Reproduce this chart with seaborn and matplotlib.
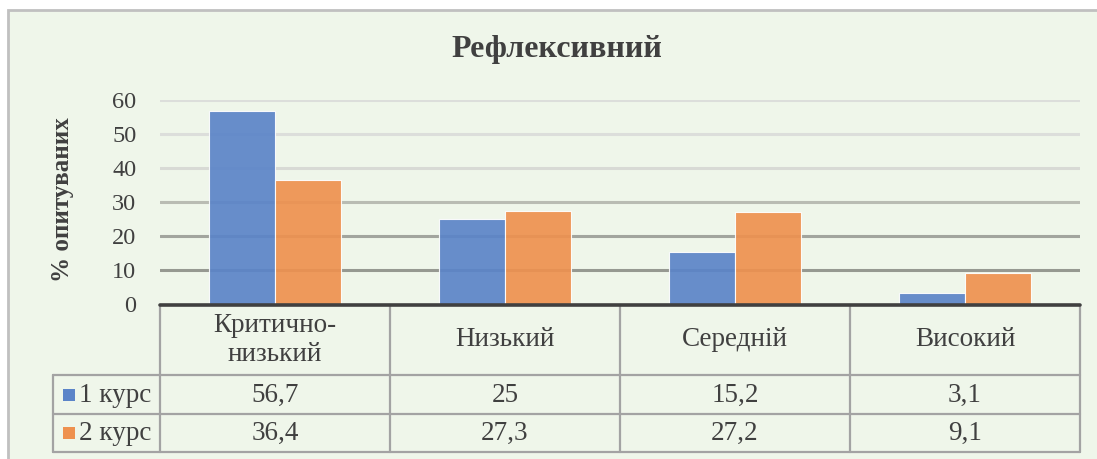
import numpy as np
import pandas as pd
import matplotlib
matplotlib.use('Agg')
import matplotlib.pyplot as plt
from matplotlib.lines import Line2D
from matplotlib.patches import Rectangle
import seaborn as sns

# data
cats = ['Критично-\nнизький', 'Низький', 'Середній', 'Високий']
groups = ['1 курс', '2 курс']
vals_1 = [56.7, 25, 15.2, 3.1]
vals_2 = [36.4, 27.3, 27.2, 9.1]
lbl_1 = ['56,7', '25', '15,2', '3,1']
lbl_2 = ['36,4', '27,3', '27,2', '9,1']
yticks = [0, 10, 20, 30, 40, 50, 60]
title = 'Рефлексивний'
ylab = '% опитуваних'

cols = ['#5b84c8', '#ee914f']
grid_cols = ['#969991', '#a2a59e', '#b9bcb3', '#d8dad5', '#dcdedb', '#dcdedb']  # 10..60
bg = '#eff6ea'
W, H = 1097, 459

df = pd.DataFrame({
    'cat': cats * 2,
    'grp': [groups[0]] * 4 + [groups[1]] * 4,
    'val': vals_1 + vals_2,
})

sns.set_style('white')
plt.rcParams['font.family'] = ['Liberation Serif', 'DejaVu Serif']

fig = plt.figure(figsize=(W / 100, H / 100), dpi=100)
fig.patch.set_facecolor('white')

def fx(x):  # px -> fig
    return x / W

def fy(y):
    return 1 - y / H

# chart area background
fig.add_artist(Rectangle((fx(8), fy(490)), fx(1130) - fx(8), fy(10) - fy(490),
                         facecolor=bg, edgecolor='#c0c0c0', lw=2, zorder=0))

x0, x1, ytop, ybot = 160, 1080, 100, 304
ax = fig.add_axes([fx(x0), fy(ybot), fx(x1) - fx(x0), fy(ytop) - fy(ybot)])
ax.set_facecolor('none')

sns.barplot(data=df, x='cat', y='val', hue='grp', order=cats, hue_order=groups,
            palette=cols, saturation=1, width=0.575, ax=ax, alpha=0.92,
            edgecolor='white', linewidth=0.8, legend=False, zorder=3)

ax.set_ylim(0, 60)
ax.set_xlim(-0.5, 3.5)
ax.set_yticks(yticks)
ax.set_yticklabels([str(t) for t in yticks], fontsize=17.5, color='#404040')
ax.tick_params(axis='y', length=0, pad=17)
ax.set_xticks([])
ax.set_xlabel('')
ax.set_ylabel('')
for s in ax.spines.values():
    s.set_visible(False)

for t, c in zip(yticks[1:], grid_cols):
    ax.axhline(t, color=c, lw=2.2, zorder=1)

# axis base line
fig.add_artist(Line2D([fx(x0), fx(x1)], [fy(305), fy(305)], color='#404040', lw=2.6, zorder=5))

fig.text(fx(557), fy(49), title, ha='center', va='center', fontsize=23,
         fontweight='bold', color='#404040')
fig.text(fx(62), fy(200), ylab, ha='center', va='center', rotation=90,
         fontsize=18, fontweight='bold', color='#404040')

# data table
col_x = [x0, 390, 620, 850, x1]
row_y = [305, 375, 414, 452]
lx = 53
tc = '#a3a3a3'
for y in row_y[1:]:
    fig.add_artist(Line2D([fx(lx), fx(x1)], [fy(y), fy(y)], color=tc, lw=1.6, zorder=4))
for x in col_x:
    fig.add_artist(Line2D([fx(x), fx(x)], [fy(305), fy(row_y[-1])], color=tc, lw=1.6, zorder=4))
fig.add_artist(Line2D([fx(lx), fx(lx)], [fy(row_y[1]), fy(row_y[-1])], color=tc, lw=1.6, zorder=4))

fs = 19.5
for i, c in enumerate(cats):
    cx = (col_x[i] + col_x[i + 1]) / 2
    fig.text(fx(cx), fy(340), c, ha='center', va='center', fontsize=fs,
             color='#404040', linespacing=1.2)
    fig.text(fx(cx), fy(395), lbl_1[i], ha='center', va='center', fontsize=fs, color='#404040')
    fig.text(fx(cx), fy(433), lbl_2[i], ha='center', va='center', fontsize=fs, color='#404040')

for j, (g, c, yy) in enumerate(zip(groups, cols, [395, 433])):
    fig.add_artist(Rectangle((fx(63), fy(yy + 6)), fx(12), fy(0) - fy(12),
                             facecolor=c, edgecolor='none', zorder=5))
    fig.text(fx(79), fy(yy), g, ha='left', va='center', fontsize=fs, color='#404040')

plt.savefig('out.png', dpi=100)
plt.close()
